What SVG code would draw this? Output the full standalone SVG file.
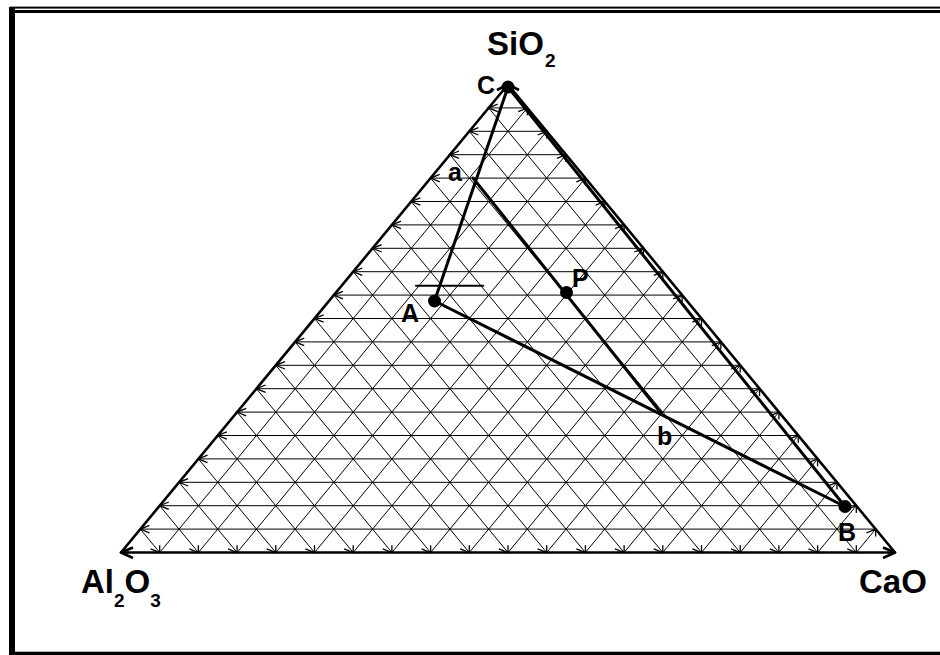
<svg xmlns="http://www.w3.org/2000/svg" width="940" height="655" viewBox="0 0 940 655">
<style>
.frame{fill:#000}
.grid{fill:none;stroke:#000;stroke-width:1}
.tick{fill:none;stroke:#000;stroke-width:1.3}
.edge{fill:none;stroke:#000;stroke-width:2.6;stroke-linejoin:round}
.tie{fill:none;stroke:#000;stroke-width:3;stroke-linecap:round}
.dot{fill:#000}
.lbl{font-family:"Liberation Sans",Arial,sans-serif;font-weight:bold;fill:#000}
.comp{font-size:33px}
.sub{font-size:19px}
.pt{font-size:25px}
</style>
<rect width="940" height="655" fill="#fff"/>
<g id="frame">
<rect class="frame" x="10" y="6.6" width="930" height="2"/>
<rect class="frame" x="9" y="10" width="931" height="3"/>
<rect class="frame" x="9" y="7" width="6" height="648"/>
<rect class="frame" x="9" y="651.7" width="931" height="3.3"/>
</g>
<g id="grid">
<path class="grid" d="M140.35 529.1H875.65M159.7 505.7H856.3M179.05 482.3H836.95M198.4 458.9H817.6M217.75 435.5H798.25M237.1 412.1H778.9M256.45 388.7H759.55M275.8 365.3H740.2M295.15 341.9H720.85M314.5 318.5H701.5M333.85 295.1H682.15M353.2 271.7H662.8M372.55 248.3H643.45M391.9 224.9H624.1M411.25 201.5H604.75M430.6 178.1H585.4M449.95 154.7H566.05M469.3 131.3H546.7M488.65 107.9H527.35"/>
<path class="grid" d="M159.7 552.5L527.35 107.9M198.4 552.5L546.7 131.3M237.1 552.5L566.05 154.7M275.8 552.5L585.4 178.1M314.5 552.5L604.75 201.5M353.2 552.5L624.1 224.9M391.9 552.5L643.45 248.3M430.6 552.5L662.8 271.7M469.3 552.5L682.15 295.1M508 552.5L701.5 318.5M546.7 552.5L720.85 341.9M585.4 552.5L740.2 365.3M624.1 552.5L759.55 388.7M662.8 552.5L778.9 412.1M701.5 552.5L798.25 435.5M740.2 552.5L817.6 458.9M778.9 552.5L836.95 482.3M817.6 552.5L856.3 505.7M856.3 552.5L875.65 529.1"/>
<path class="grid" d="M159.7 552.5L140.35 529.1M198.4 552.5L159.7 505.7M237.1 552.5L179.05 482.3M275.8 552.5L198.4 458.9M314.5 552.5L217.75 435.5M353.2 552.5L237.1 412.1M391.9 552.5L256.45 388.7M430.6 552.5L275.8 365.3M469.3 552.5L295.15 341.9M508 552.5L314.5 318.5M546.7 552.5L333.85 295.1M585.4 552.5L353.2 271.7M624.1 552.5L372.55 248.3M662.8 552.5L391.9 224.9M701.5 552.5L411.25 201.5M740.2 552.5L430.6 178.1M778.9 552.5L449.95 154.7M817.6 552.5L469.3 131.3M856.3 552.5L488.65 107.9"/>
<path class="tick" d="M149.45 525.4l-9.1 3.7 9.1 3.7M168.8 502l-9.1 3.7 9.1 3.7M188.15 478.6l-9.1 3.7 9.1 3.7M207.5 455.2l-9.1 3.7 9.1 3.7M226.85 431.8l-9.1 3.7 9.1 3.7M246.2 408.4l-9.1 3.7 9.1 3.7M265.55 385l-9.1 3.7 9.1 3.7M284.9 361.6l-9.1 3.7 9.1 3.7M304.25 338.2l-9.1 3.7 9.1 3.7M323.6 314.8l-9.1 3.7 9.1 3.7M342.95 291.4l-9.1 3.7 9.1 3.7M362.3 268l-9.1 3.7 9.1 3.7M381.65 244.6l-9.1 3.7 9.1 3.7M401 221.2l-9.1 3.7 9.1 3.7M420.35 197.8l-9.1 3.7 9.1 3.7M439.7 174.4l-9.1 3.7 9.1 3.7M459.05 151l-9.1 3.7 9.1 3.7M478.4 127.6l-9.1 3.7 9.1 3.7M497.75 104.2l-9.1 3.7 9.1 3.7"/>
<path class="tick" d="M150.6 548.8l9.1 3.7v-7.3M189.3 548.8l9.1 3.7v-7.3M228 548.8l9.1 3.7v-7.3M266.7 548.8l9.1 3.7v-7.3M305.4 548.8l9.1 3.7v-7.3M344.1 548.8l9.1 3.7v-7.3M382.8 548.8l9.1 3.7v-7.3M421.5 548.8l9.1 3.7v-7.3M460.2 548.8l9.1 3.7v-7.3M498.9 548.8l9.1 3.7v-7.3M537.6 548.8l9.1 3.7v-7.3M576.3 548.8l9.1 3.7v-7.3M615 548.8l9.1 3.7v-7.3M653.7 548.8l9.1 3.7v-7.3M692.4 548.8l9.1 3.7v-7.3M731.1 548.8l9.1 3.7v-7.3M769.8 548.8l9.1 3.7v-7.3M808.5 548.8l9.1 3.7v-7.3M847.2 548.8l9.1 3.7v-7.3"/>
<path class="tick" d="M866.55 532.8l9.1 -3.7v7.3M847.2 509.4l9.1 -3.7v7.3M827.85 486l9.1 -3.7v7.3M808.5 462.6l9.1 -3.7v7.3M789.15 439.2l9.1 -3.7v7.3M769.8 415.8l9.1 -3.7v7.3M750.45 392.4l9.1 -3.7v7.3M731.1 369l9.1 -3.7v7.3M711.75 345.6l9.1 -3.7v7.3M692.4 322.2l9.1 -3.7v7.3M673.05 298.8l9.1 -3.7v7.3M653.7 275.4l9.1 -3.7v7.3M634.35 252l9.1 -3.7v7.3M615 228.6l9.1 -3.7v7.3M595.65 205.2l9.1 -3.7v7.3M576.3 181.8l9.1 -3.7v7.3M556.95 158.4l9.1 -3.7v7.3M537.6 135l9.1 -3.7v7.3M518.25 111.6l9.1 -3.7v7.3"/>
</g>
<g id="triangle">
<polygon class="edge" points="121,552.5 895,552.5 508,84.5"/>
<path class="edge" d="M133 547.5L121 552.5L133 558M883 547.5L895 552.5L883 558M497 90L508 84.5L519 90"/>
</g>
<g id="connectors">
<path class="tie" d="M508 87L434.5 301"/>
<path class="tie" d="M434.5 301L845 506.5"/>
<path class="tie" d="M508 87L845 506.5"/>
<path class="tie" d="M473 178L661 413"/>
<path class="tie" style="stroke-width:2" d="M416 285.7H483.3"/>
</g>
<g id="node-C"><circle class="dot" cx="508" cy="87" r="6.5"/><text class="lbl pt" x="477" y="94">C</text></g>
<g id="node-A"><circle class="dot" cx="434.5" cy="301" r="6.5"/><text class="lbl pt" x="401" y="322">A</text></g>
<g id="node-P"><circle class="dot" cx="566.5" cy="292.5" r="6.5"/><text class="lbl pt" x="572" y="287">P</text></g>
<g id="node-B"><circle class="dot" cx="845" cy="506.5" r="6.5"/><text class="lbl pt" x="838" y="541">B</text></g>
<g id="node-a"><text class="lbl pt" x="448" y="181">a</text></g>
<g id="node-b"><text class="lbl pt" x="657" y="445">b</text></g>
<g id="label-SiO2"><text class="lbl comp" x="487" y="55">SiO<tspan class="sub" x="545" y="67">2</tspan></text></g>
<g id="label-Al2O3"><text class="lbl comp" x="81" y="593">Al<tspan class="sub" y="607">2</tspan><tspan y="593">O</tspan><tspan class="sub" y="607">3</tspan></text></g>
<g id="label-CaO"><text class="lbl comp" x="859" y="593">CaO</text></g>
</svg>
